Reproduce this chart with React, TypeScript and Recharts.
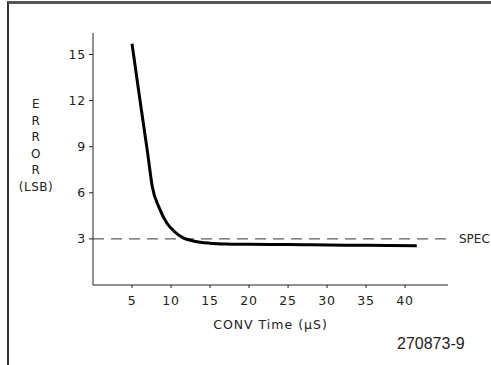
import React from "react";
import {
  LineChart,
  Line,
  XAxis,
  YAxis,
  ReferenceLine,
  Label,
} from "recharts";

// conversion time (uS) vs error (LSB)
const convTime = [5, 6, 7, 7.6, 8.5, 9.5, 10.5, 11.5, 13, 15, 17, 20, 25, 30, 35, 41.5];
const errorLsb = [15.7, 12.1, 8.6, 6.4, 5.0, 4.0, 3.45, 3.08, 2.85, 2.72, 2.67, 2.65, 2.63, 2.6, 2.58, 2.55];
const xTicks = [5, 10, 15, 20, 25, 30, 35, 40];
const yTicks = [3, 6, 9, 12, 15];
const yLabelLines = ["E", "R", "R", "O", "R", "(LSB)"];
const specLevel = 3;

const data = convTime.map((t, i) => ({ t, err: errorLsb[i] }));

const FONT = "'DejaVu Sans', 'Liberation Sans', sans-serif";
const INK = "#222";

function YTitle() {
  return (
    <text x={36} y={104} textAnchor="middle" fontFamily={FONT} fontSize={12} fill={INK} letterSpacing={0.5}>
      {yLabelLines.map((s, i) => (
        <tspan key={i} x={36} dy={i === 0 ? 4 : 16.6}>
          {s}
        </tspan>
      ))}
    </text>
  );
}

export default function App() {
  return (
    <div style={{ position: "absolute", left: 0, top: 0, width: 491, height: 365, background: "#fff" }}>
      <div
        style={{
          position: "absolute",
          left: 7,
          top: 1,
          width: 484,
          height: 364,
          borderTop: "3px solid #555",
          borderLeft: "2px solid #333",
        }}
      />
      <LineChart
        width={491}
        height={365}
        data={data}
        margin={{ top: 33, right: 43, left: 0, bottom: 50 }}
        style={{ position: "absolute", left: 0, top: 0 }}
      >
        <XAxis
          dataKey="t"
          type="number"
          domain={[0, 45.5]}
          ticks={xTicks}
          height={30}
          stroke={INK}
          tickSize={3}
          tickMargin={8}
          tick={{ fill: INK, fontSize: 12.5, fontFamily: FONT, letterSpacing: 0.8 }}
        >
          <Label
            value="CONV Time (μS)"
            position="insideBottom"
            offset={-14}
            style={{ fill: INK, fontSize: 12.5, fontFamily: FONT, letterSpacing: 1 }}
          />
        </XAxis>
        <YAxis
          type="number"
          domain={[0, 16.4]}
          ticks={yTicks}
          width={93}
          stroke={INK}
          tickSize={4}
          tickMargin={3}
          tick={{ fill: INK, fontSize: 12.5, fontFamily: FONT, letterSpacing: 0.8 }}
        >
          <Label content={<YTitle />} />
        </YAxis>
        <ReferenceLine
          y={specLevel}
          stroke="#333"
          strokeDasharray="11 7"
          strokeWidth={1}
        >
          <Label
            value="SPEC"
            position="right"
            offset={11}
            style={{ fill: INK, fontSize: 12, fontFamily: FONT }}
          />
        </ReferenceLine>
        <Line
          type="monotone"
          dataKey="err"
          stroke="#000"
          strokeWidth={3}
          dot={false}
          isAnimationActive={false}
        />
      </LineChart>
      <div
        style={{
          position: "absolute",
          left: 397,
          top: 335,
          fontFamily: "'Liberation Sans', Arial, sans-serif",
          fontSize: 16,
          color: INK,
          lineHeight: "18px",
        }}
      >
        270873-9
      </div>
    </div>
  );
}
